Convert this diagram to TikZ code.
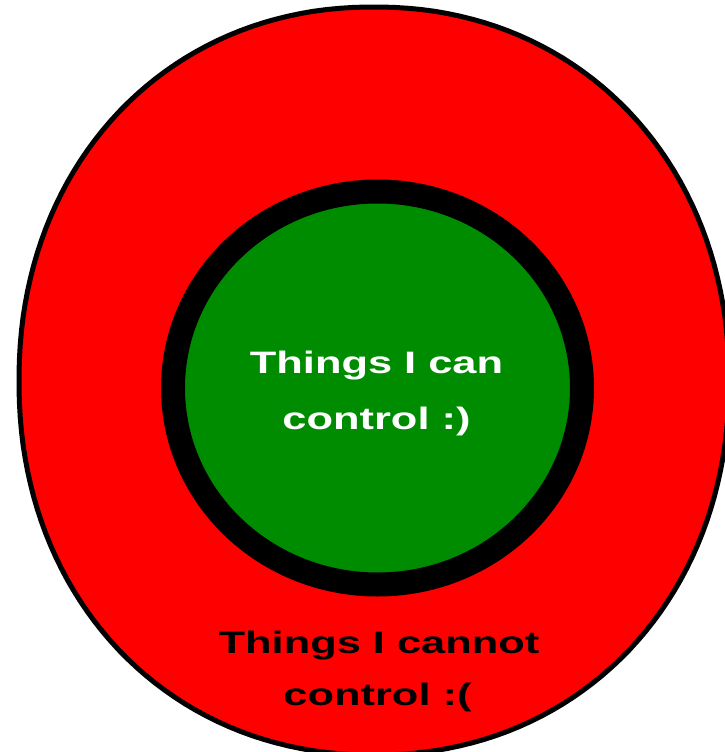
\documentclass[tikz,border=0pt]{standalone}
\usepackage{fontspec}
\newfontfamily\handfont[FakeStretch=1.4]{Liberation Sans}
\definecolor{ringred}{RGB}{255,0,0}
\definecolor{ringgreen}{RGB}{0,140,0}
\begin{document}
\begin{tikzpicture}[x=1pt,y=-1pt,
  lbl/.style={font=\handfont\bfseries\fontsize{31}{31}\selectfont, anchor=base, inner sep=0pt},
  outerring/.style={draw=black, line width=5pt, fill=ringred, line join=round},
  innerring/.style={draw=black, line width=24pt, fill=ringgreen}]
\useasboundingbox (0,0) rectangle (725,752);
% outer, slightly squarish hand-drawn ellipse
\path[outerring] plot[domain=1:361, samples=181]
  ({374+355*sign(cos(\x))*abs(cos(\x))^(0.952381)},
   {381+374*sign(sin(\x))*abs(sin(\x))^(0.952381)}) -- cycle;
% inner ellipse
\path[innerring] (377.5,388) ellipse [x radius=204.5pt, y radius=196.5pt];
% labels
\node[lbl, text=white] (inA) at (376.5,373) {Things I can};
\node[lbl, text=white] (inB) at (376.5,429) {control :)};
\node[lbl, text=black] (outA) at (379,653) {Things I cannot};
\node[lbl, text=black] (outB) at (377.5,705) {control :(};
\end{tikzpicture}
\end{document}
